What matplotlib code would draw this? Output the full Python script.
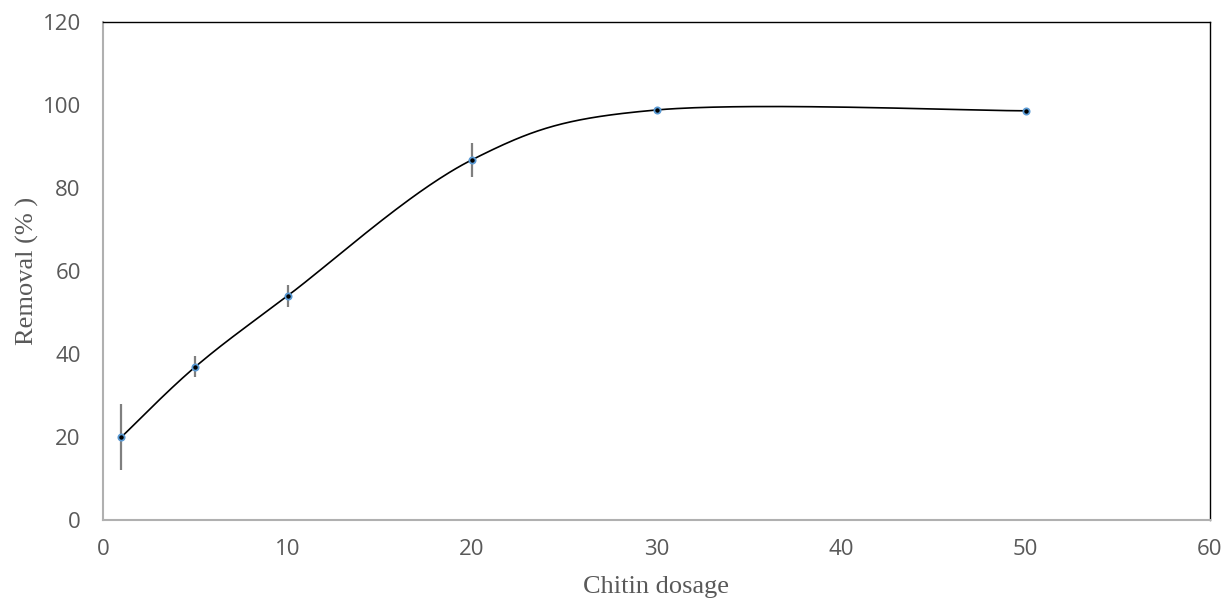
import numpy as np
import matplotlib
matplotlib.use("Agg")
import matplotlib.pyplot as plt

dosage = [1, 5, 10, 20, 30, 50]
removal = [20.0, 36.9, 54.0, 86.8, 98.8, 98.6]
err = [8.0, 2.5, 2.7, 4.1, 0.0, 0.0]
xticks = [0, 10, 20, 30, 40, 50, 60]
yticks = [0, 20, 40, 60, 80, 100, 120]


def excel_smooth(xs, ys, n=60):
    xs = np.asarray(xs, float)
    ys = np.asarray(ys, float)
    P = np.column_stack([xs, ys])
    m = len(P)
    out = []
    for i in range(m - 1):
        p0 = P[i - 1] if i > 0 else P[i]
        p1 = P[i]
        p2 = P[i + 1]
        p3 = P[i + 2] if i + 2 < m else P[i + 1]
        c1 = p1 + (p2 - p0) / 6.0
        c2 = p2 - (p3 - p1) / 6.0
        t = np.linspace(0, 1, n)[:, None]
        seg = ((1 - t) ** 3) * p1 + 3 * ((1 - t) ** 2) * t * c1 + 3 * (1 - t) * t ** 2 * c2 + t ** 3 * p2
        out.append(seg if i == 0 else seg[1:])
    c = np.vstack(out)
    return c[:, 0], c[:, 1]


fig = plt.figure(figsize=(12.25, 6.01), dpi=100)
ax = fig.add_axes([103 / 1225, 1 - 520 / 601, 1107 / 1225, 498 / 601])

sx, sy = excel_smooth(dosage, removal)
ax.plot(sx, sy, color="black", lw=1.2, zorder=2)
ax.errorbar(dosage, removal, yerr=err, fmt="none", ecolor="#7f7f7f", elinewidth=1.6, capsize=0, zorder=3)
ax.plot(dosage, removal, "o", ms=4.5, mfc="black", mec="#5B9BD5", mew=1.3, zorder=4, linestyle="none")

ax.set_xlim(0, 60)
ax.set_ylim(0, 120)
ax.set_xticks(xticks)
ax.set_yticks(yticks)
ax.tick_params(axis="both", length=0, labelsize=16, labelcolor="#595959")
ax.tick_params(axis="x", pad=14)
ax.tick_params(axis="y", pad=16)
for lab in ax.get_xticklabels() + ax.get_yticklabels():
    lab.set_family(["Open Sans", "DejaVu Sans"])

for s in ["top", "right"]:
    ax.spines[s].set_color("black")
    ax.spines[s].set_linewidth(1.0)
for s in ["left", "bottom"]:
    ax.spines[s].set_color("#b0b0b0")
    ax.spines[s].set_linewidth(1.5)

ax.set_xlabel("Chitin dosage", family="Liberation Serif", fontsize=19, color="#595959")
ax.set_ylabel("Removal (% )", family="Liberation Serif", fontsize=19, color="#595959")
ax.xaxis.set_label_coords(0.4995, -0.113)
ax.yaxis.set_label_coords(-0.058, 0.5)

fig.savefig("out.png", dpi=100)
